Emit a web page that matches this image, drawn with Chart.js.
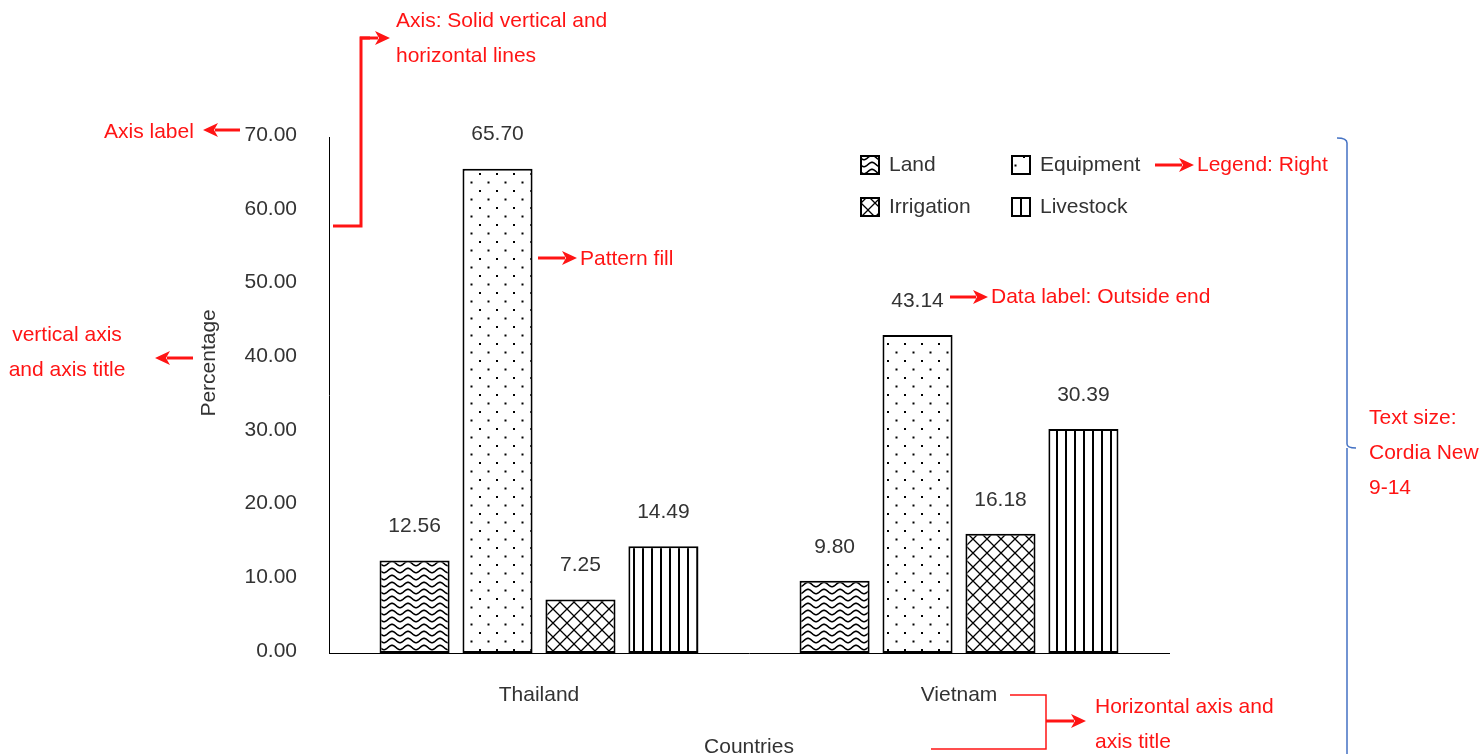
<!DOCTYPE html>
<html>
<head>
<meta charset="utf-8">
<script src="https://cdn.jsdelivr.net/npm/chart.js@4.4.1/dist/chart.umd.min.js"></script>
<style>
  html, body { margin: 0; padding: 0; background: #ffffff; }
  #wrap { width: 1483px; height: 754px; position: relative; }
</style>
</head>
<body>
<div id="wrap"><canvas id="c" width="1483" height="754"></canvas></div>
<script>
// ---- DATA ----
const categories = ['Thailand', 'Vietnam'];
const seriesNames = ['Land', 'Equipment', 'Irrigation', 'Livestock'];
const landValues = [12.56, 9.80];
const equipmentValues = [65.70, 43.14];
const irrigationValues = [7.25, 16.18];
const livestockValues = [14.49, 30.39];
const yTicks = [0, 10, 20, 30, 40, 50, 60, 70];
const xAxisTitle = 'Countries';
const yAxisTitle = 'Percentage';

const FONT = '"Liberation Sans", Arial, sans-serif';
const TEXT = '#333333';

// ---- PATTERNS ----
function makeTile(w, h, draw) {
  const c = document.createElement('canvas');
  c.width = w; c.height = h;
  const g = c.getContext('2d');
  g.fillStyle = '#ffffff';
  g.fillRect(0, 0, w, h);
  g.strokeStyle = '#000'; g.fillStyle = '#000';
  draw(g, w, h);
  return document.createElement('canvas').getContext('2d').createPattern(c, 'repeat');
}
const patWave = makeTile(16, 7, (g, w, h) => {
  g.lineWidth = 1.6;
  g.beginPath();
  for (let x = 0; x <= w; x += 0.5) {
    const y = 3.5 + 2.2 * Math.cos((x / w) * Math.PI * 2);
    if (x === 0) g.moveTo(x, y); else g.lineTo(x, y);
  }
  g.stroke();
});
const patDots = makeTile(17, 17, (g) => {
  g.fillRect(3, 3, 2, 2);
  g.fillRect(11.5, 11.5, 2, 2);
});
const patCross = makeTile(14, 14, (g, w, h) => {
  g.lineWidth = 1.3;
  g.beginPath();
  g.moveTo(-1, -1); g.lineTo(w + 1, h + 1);
  g.moveTo(w + 1, -1); g.lineTo(-1, h + 1);
  g.stroke();
});
const patVert = makeTile(9, 4, (g) => {
  g.fillRect(3, 0, 2, 4);
});
const patterns = [patWave, patDots, patCross, patVert];

// ---- PLUGINS ----
const dataLabels = {
  id: 'dataLabels',
  afterDatasetsDraw(chart) {
    const ctx = chart.ctx;
    ctx.save();
    ctx.font = '21px ' + FONT;
    ctx.fillStyle = TEXT;
    ctx.textAlign = 'center';
    ctx.textBaseline = 'middle';
    chart.data.datasets.forEach((ds, i) => {
      chart.getDatasetMeta(i).data.forEach((bar, j) => {
        ctx.fillText(Number(ds.data[j]).toFixed(2), bar.x, bar.y - 34);
      });
    });
    ctx.restore();
  }
};

const customLegend = {
  id: 'customLegend',
  afterDraw(chart) {
    const ctx = chart.ctx;
    ctx.save();
    ctx.font = '21px ' + FONT;
    ctx.textBaseline = 'middle';
    ctx.textAlign = 'left';
    chart.data.datasets.forEach((ds, i) => {
      const col = i % 2, row = Math.floor(i / 2);
      const x = 861 + col * 151, y = 156 + row * 42;
      ctx.fillStyle = ds.backgroundColor;
      ctx.fillRect(x, y, 18, 18);
      ctx.lineWidth = 2;
      ctx.strokeStyle = '#000';
      ctx.strokeRect(x, y, 18, 18);
      ctx.fillStyle = TEXT;
      ctx.fillText(ds.label, x + 28, y + 9.5);
    });
    ctx.restore();
  }
};

function arrow(ctx, x1, y1, x2, y2) {
  const ang = Math.atan2(y2 - y1, x2 - x1);
  const hl = 15, hw = 7;
  const bx = x2 - hl * Math.cos(ang), by = y2 - hl * Math.sin(ang);
  ctx.beginPath();
  ctx.moveTo(x1, y1); ctx.lineTo(bx + 3 * Math.cos(ang), by + 3 * Math.sin(ang));
  ctx.stroke();
  ctx.beginPath();
  ctx.moveTo(x2, y2);
  ctx.lineTo(bx - hw * Math.sin(ang), by + hw * Math.cos(ang));
  ctx.lineTo(bx + 4 * Math.cos(ang), by + 4 * Math.sin(ang));
  ctx.lineTo(bx + hw * Math.sin(ang), by - hw * Math.cos(ang));
  ctx.closePath();
  ctx.fill();
}

const annotations = {
  id: 'annotations',
  afterDraw(chart) {
    const ctx = chart.ctx;
    ctx.save();
    const red = '#ff1414';
    ctx.strokeStyle = red; ctx.fillStyle = red;
    ctx.lineWidth = 3;
    ctx.font = '21px ' + FONT;
    ctx.textBaseline = 'middle';
    ctx.textAlign = 'left';

    // Axis label
    arrow(ctx, 240, 130, 203, 130);
    ctx.fillText('Axis label', 104, 132);

    // Axis: solid lines
    ctx.beginPath();
    ctx.moveTo(333, 226); ctx.lineTo(361, 226); ctx.lineTo(361, 38); ctx.lineTo(370, 38);
    ctx.stroke();
    arrow(ctx, 360, 38, 390, 38);
    ctx.fillText('Axis: Solid vertical and', 396, 21);
    ctx.fillText('horizontal lines', 396, 56);

    // Pattern fill
    arrow(ctx, 538, 258, 577, 258);
    ctx.fillText('Pattern fill', 580, 259);

    // Data label
    arrow(ctx, 950, 297, 988, 297);
    ctx.fillText('Data label: Outside end', 991, 297);

    // Legend
    arrow(ctx, 1155, 165, 1194, 165);
    ctx.fillText('Legend: Right', 1197, 165);

    // vertical axis and title
    arrow(ctx, 193, 358, 155, 358);
    ctx.textAlign = 'center';
    ctx.fillText('vertical axis', 67, 335);
    ctx.fillText('and axis title', 67, 370);
    ctx.textAlign = 'left';

    // horizontal axis and title
    ctx.lineWidth = 1.5;
    ctx.beginPath();
    ctx.moveTo(1010, 695); ctx.lineTo(1046, 695); ctx.lineTo(1046, 749); ctx.lineTo(931, 749);
    ctx.stroke();
    ctx.lineWidth = 3;
    arrow(ctx, 1046, 721, 1086, 721);
    ctx.fillText('Horizontal axis and', 1095, 707);
    ctx.fillText('axis title', 1095, 742);

    // Text size bracket
    ctx.strokeStyle = '#4472c4';
    ctx.lineWidth = 1.5;
    ctx.beginPath();
    ctx.moveTo(1337, 138);
    ctx.quadraticCurveTo(1347, 138, 1347, 143);
    ctx.lineTo(1347, 444);
    ctx.quadraticCurveTo(1347, 448, 1356, 448);
    ctx.moveTo(1347, 448);
    ctx.lineTo(1347, 754);
    ctx.stroke();
    ctx.fillStyle = red;
    ctx.fillText('Text size:', 1369, 418);
    ctx.fillText('Cordia New', 1369, 453);
    ctx.fillText('9-14', 1369, 488);
    ctx.restore();
  }
};

// ---- CHART ----
const seriesValues = [landValues, equipmentValues, irrigationValues, livestockValues];
const datasets = seriesNames.map((name, i) => ({
  label: name,
  data: seriesValues[i],
  backgroundColor: patterns[i],
  borderColor: '#000000',
  borderWidth: 2,
  borderSkipped: false,
  categoryPercentage: 0.79,
  barPercentage: 0.845
}));

new Chart(document.getElementById('c'), {
  type: 'bar',
  data: { labels: categories, datasets },
  options: {
    responsive: false,
    animation: false,
    devicePixelRatio: 1,
    layout: { padding: { left: 190, right: 314, top: 137, bottom: 0 } },
    plugins: { legend: { display: false }, tooltip: { enabled: false } },
    scales: {
      x: {
        grid: { display: false, drawTicks: false },
        border: { display: true, color: '#000000', width: 1 },
        ticks: { color: TEXT, font: { family: FONT, size: 21 }, padding: 30 },
        title: { display: true, text: xAxisTitle, color: TEXT, font: { family: FONT, size: 21, lineHeight: 0.67 }, padding: { top: 0, bottom: 0 } },
        afterFit(scale) { scale.height = 101; }
      },
      y: {
        min: yTicks[0],
        max: yTicks[yTicks.length - 1],
        grid: { display: false, drawTicks: false },
        border: { display: true, color: '#000000', width: 1 },
        afterBuildTicks(scale) { scale.ticks = yTicks.map(v => ({ value: v })); },
        ticks: {
          color: TEXT, font: { family: FONT, size: 21 }, padding: 32, labelOffset: -2,
          callback: v => Number(v).toFixed(2)
        },
        title: {
          display: true,
          text: '\u00a0'.repeat(11) + yAxisTitle,
          color: TEXT, font: { family: FONT, size: 21, lineHeight: 1.2 }, padding: { top: 7, bottom: 0 }
        },
        afterFit(scale) { scale.width = 139; }
      }
    }
  },
  plugins: [dataLabels, customLegend, annotations]
});
</script>
</body>
</html>
